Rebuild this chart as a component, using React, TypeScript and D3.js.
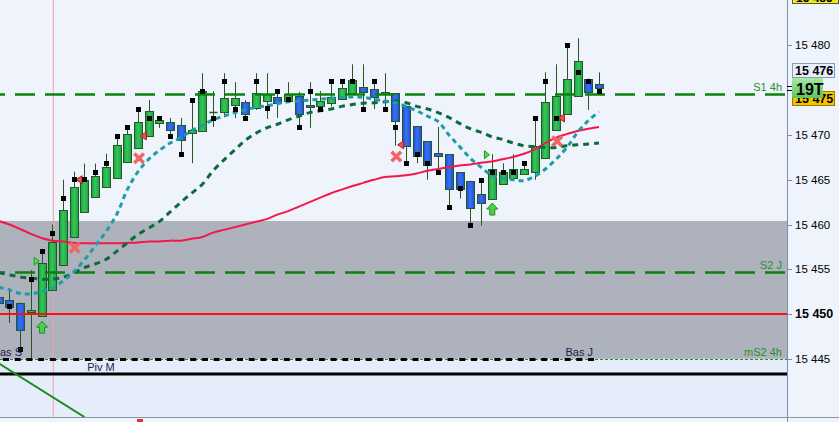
import React from "react";
import * as d3 from "d3";

// ---------- DATA ----------
const firstIndex = -1; // first candle is partially hidden at the left edge

const opens = [15451.9, 15451.6, 15451.2, 15450.2, 15449.8, 15452.7, 15455.5, 15458.6, 15461.4, 15463.1, 15464.2, 15465.2, 15467.0, 15468.6, 15469.9, 15471.3, 15471.4, 15471.1, 15470.2, 15470.4, 15472.6, 15472.6, 15473.4, 15473.7, 15473.05, 15473.8, 15474.2, 15473.8, 15474.4, 15473.35, 15473.2, 15473.55, 15474.0, 15474.7, 15475.4, 15475.1, 15474.55, 15474.7, 15473.25, 15471.0, 15469.3, 15468.0, 15467.85, 15465.85, 15464.9, 15463.4, 15462.9, 15464.5, 15465.2, 15465.6, 15465.9, 15467.4, 15470.6, 15472.4, 15474.4, 15476.3, 15475.7];
const highs = [15452.3, 15452.9, 15451.3, 15454.9, 15457.3, 15460.0, 15465.0, 15465.9, 15466.8, 15466.8, 15467.9, 15470.1, 15471.1, 15473.0, 15473.9, 15472.1, 15471.9, 15471.9, 15474.1, 15476.9, 15474.9, 15476.9, 15475.9, 15473.9, 15476.9, 15476.9, 15474.9, 15475.9, 15474.8, 15475.9, 15474.9, 15475.9, 15475.9, 15477.9, 15477.9, 15475.9, 15476.9, 15474.7, 15473.25, 15471.0, 15469.3, 15470.9, 15467.85, 15465.85, 15464.9, 15465.0, 15467.85, 15466.85, 15467.85, 15467.1, 15471.9, 15477.0, 15477.9, 15480.0, 15480.8, 15476.3, 15477.0];
const lows = [15450.8, 15449.0, 15446.0, 15445.1, 15449.8, 15452.7, 15455.5, 15458.6, 15461.4, 15463.1, 15464.2, 15465.2, 15467.0, 15468.6, 15469.9, 15470.8, 15469.9, 15467.9, 15466.85, 15470.4, 15470.9, 15472.0, 15471.9, 15471.9, 15472.8, 15471.8, 15471.9, 15473.8, 15470.9, 15470.8, 15472.9, 15473.2, 15474.0, 15474.7, 15472.9, 15472.9, 15472.9, 15468.8, 15466.85, 15466.85, 15465.0, 15465.9, 15462.0, 15462.9, 15460.0, 15459.9, 15462.9, 15464.5, 15465.2, 15465.6, 15465.0, 15467.4, 15470.6, 15472.4, 15474.4, 15472.8, 15474.85];
const closes = [15451.2, 15450.8, 15448.2, 15450.4, 15455.7, 15458.1, 15461.6, 15464.2, 15465.0, 15465.4, 15466.4, 15468.9, 15470.1, 15471.4, 15472.65, 15471.7, 15470.6, 15469.4, 15470.6, 15474.9, 15472.6, 15474.1, 15474.1, 15472.35, 15474.7, 15474.55, 15473.6, 15474.6, 15472.4, 15473.1, 15473.8, 15474.3, 15475.3, 15476.1, 15474.85, 15474.3, 15474.8, 15471.6, 15468.8, 15467.6, 15466.6, 15467.6, 15463.95, 15463.95, 15461.9, 15462.4, 15466.2, 15465.85, 15466.2, 15466.2, 15468.8, 15473.65, 15474.4, 15476.3, 15478.3, 15474.85, 15475.3];
const squareMarks: (number | null)[] = [null, 15450.95, 15446.1, 15453.9, 15457.0, 15459.0, 15463.0, 15465.1, 15465.1, 15465.9, 15466.9, 15469.9, 15470.9, 15472.9, 15471.9, 15471.9, 15469.9, 15467.9, 15473.9, 15474.9, 15471.9, 15476.0, 15472.9, 15471.9, 15476.0, 15473.0, 15474.9, 15474.0, 15470.9, 15474.9, 15472.9, 15476.0, 15476.0, 15476.0, 15472.9, 15476.0, 15472.9, 15470.9, 15466.9, 15467.9, 15466.9, 15465.9, 15462.0, 15464.1, 15460.0, 15465.0, 15465.9, 15465.9, 15465.9, 15466.9, 15471.9, 15476.0, 15471.9, 15480.0, 15477.0, 15476.0, 15474.9];

const maRed = [15460.4, 15460.0, 15459.5, 15458.95, 15458.5, 15458.2, 15458.1, 15457.95, 15457.9, 15457.9, 15457.9, 15457.9, 15457.95, 15458.0, 15458.1, 15458.1, 15458.2, 15458.2, 15458.4, 15458.6, 15459.1, 15459.4, 15459.7, 15460.0, 15460.3, 15460.6, 15461.1, 15461.5, 15462.0, 15462.5, 15463.0, 15463.5, 15463.9, 15464.3, 15464.65, 15465.0, 15465.3, 15465.4, 15465.5, 15465.7, 15466.0, 15466.2, 15466.4, 15466.6, 15466.7, 15466.9, 15467.05, 15467.3, 15467.55, 15467.9, 15468.4, 15469.1, 15469.7, 15470.1, 15470.45, 15470.7, 15470.9];
const maTeal = [15453.0, 15452.7, 15452.3, 15452.25, 15452.5, 15452.9, 15453.7, 15454.7, 15456.05, 15457.6, 15459.2, 15461.1, 15463.9, 15465.9, 15467.3, 15468.3, 15469.1, 15469.7, 15470.5, 15471.1, 15471.7, 15472.1, 15472.5, 15472.8, 15473.1, 15473.25, 15473.5, 15473.7, 15473.8, 15473.9, 15474.0, 15474.1, 15474.2, 15474.25, 15474.2, 15474.0, 15473.8, 15473.6, 15473.2, 15472.7, 15472.1, 15471.5, 15470.0, 15468.7, 15467.4, 15466.4, 15465.5, 15465.2, 15465.0, 15464.9, 15465.4, 15466.2, 15467.3, 15468.6, 15470.3, 15471.6, 15472.6];
const maDark = [15454.6, 15454.4, 15454.15, 15454.0, 15453.9, 15453.9, 15454.1, 15454.6, 15455.2, 15455.6, 15456.1, 15457.0, 15457.95, 15458.9, 15459.6, 15460.35, 15461.4, 15462.5, 15463.5, 15464.5, 15466.0, 15467.2, 15468.3, 15469.4, 15470.2, 15470.8, 15471.2, 15471.7, 15472.1, 15472.5, 15472.7, 15472.9, 15473.2, 15473.4, 15473.55, 15473.6, 15473.7, 15473.8, 15473.6, 15473.2, 15472.9, 15472.5, 15471.96, 15471.3, 15470.7, 15470.3, 15469.8, 15469.5, 15469.1, 15468.8, 15468.7, 15468.6, 15468.6, 15468.8, 15468.9, 15469.0, 15469.1];

const crossIdx = [6, 12, 36, 51];
const crossPrice = [15457.4, 15467.4, 15467.6, 15469.3];
const sellTriIdx = [6.5, 12.5, 36.5, 51.5];
const sellTriPrice = [15465.0, 15469.9, 15468.9, 15471.9];
const buyTriIdx = [2.5, 44.5];
const buyTriPrice = [15455.9, 15467.8];
const upArrowIdx = [3, 45];
const upArrowPrice = [15449.2, 15462.4];

const levelS1 = 15474.6;
const levelS2 = 15454.65;
const levelRed = 15450;
const levelBas = 15445;
const levelBasEndIdx = 55;
const levelPivM = 15443.3;
const zoneTop = 15460.4;
const zoneBottom = 15445;
const trendIdx = [-1, 7];
const trendPrice = [15444.5, 15438.5];
const sessionIdx = 4;

const yTicks = [15445, 15450, 15455, 15460, 15465, 15470, 15480];
const boldTick = 15450;
const lastPrice = 15475.3;
const priceBoxes = { top: "15 485", high: "15 476", count: "19T", last: "15 475" };

// ---------- CHART ----------
const W = 839;
const H = 422;
const plotR = 787;
const plotB = 417;
const FONT = "'Liberation Sans', Arial, sans-serif";

const fmt = d3.formatLocale({ decimal: ".", thousands: " ", grouping: [3], currency: ["", ""] }).format(",");

export default function App() {
  const x = d3.scaleLinear().domain([0, 55]).range([9.4, 599]);
  const y = d3.scaleLinear().domain([15438.5, 15485.08]).range([plotB, 0]);
  const ix = (i: number) => i + firstIndex;

  const line = d3
    .line<number>()
    .x((_, i) => x(ix(i)))
    .y((d) => y(d))
    .curve(d3.curveCatmullRom);

  const sy = (p: number) => Math.round(y(p)) + 0.5;

  return (
    <svg width={W} height={H} style={{ position: "absolute", left: 0, top: 0, fontFamily: FONT }}>
      <defs>
        <clipPath id="plot">
          <rect x={0} y={0} width={plotR} height={plotB} />
        </clipPath>
        <linearGradient id="gUp" x1="0" x2="1" y1="0" y2="0">
          <stop offset="0" stopColor="#1d9a3d" />
          <stop offset="0.45" stopColor="#35c85a" />
          <stop offset="1" stopColor="#1f9f40" />
        </linearGradient>
        <linearGradient id="gDn" x1="0" x2="1" y1="0" y2="0">
          <stop offset="0" stopColor="#1c4fd6" />
          <stop offset="0.45" stopColor="#3a6ff5" />
          <stop offset="1" stopColor="#1d50d8" />
        </linearGradient>
        <linearGradient id="gCnt" x1="0" x2="0" y1="0" y2="1">
          <stop offset="0" stopColor="#a6eaa6" />
          <stop offset="1" stopColor="#5cc45c" />
        </linearGradient>
      </defs>

      {/* backgrounds */}
      <rect x={0} y={0} width={W} height={H} fill="#eef3fc" />
      <rect x={0} y={y(zoneBottom)} width={plotR} height={plotB - y(zoneBottom)} fill="#e5edfb" />
      <rect x={0} y={y(zoneTop)} width={plotR} height={y(zoneBottom) - y(zoneTop)} fill="#aeb2bd" />

      <g clipPath="url(#plot)">
        {/* session line */}
        <line x1={x(sessionIdx) + 1} x2={x(sessionIdx) + 1} y1={0} y2={H} stroke="#f0a2a8" strokeWidth={1} />

        {/* candles */}
        {opens.map((o, i) => {
          const c = closes[i];
          const cx = Math.round(x(ix(i))) + 0.5;
          const up = c >= o;
          const top = Math.round(y(Math.max(o, c)));
          const bot = Math.round(y(Math.min(o, c)));
          return (
            <g key={i}>
              <line x1={cx} x2={cx} y1={y(highs[i])} y2={y(lows[i])} stroke="#2b5520" strokeWidth={1} />
              {bot - top < 2 ? (
                <line x1={cx - 4} x2={cx + 4} y1={top + 0.5} y2={top + 0.5} stroke="#2b5520" strokeWidth={1.5} />
              ) : (
                <rect
                  x={cx - 4}
                  y={top + 0.5}
                  width={8}
                  height={bot - top}
                  fill={up ? "url(#gUp)" : "url(#gDn)"}
                  stroke="#205a26"
                  strokeWidth={1}
                />
              )}
            </g>
          );
        })}

        {/* horizontal levels */}
        <line x1={0} x2={plotR} y1={sy(levelS1)} y2={sy(levelS1)} stroke="#0a830a" strokeWidth={2.5} strokeDasharray="20 10" strokeDashoffset={15} />
        <line x1={0} x2={plotR} y1={sy(levelS2)} y2={sy(levelS2)} stroke="#0a830a" strokeWidth={2.5} strokeDasharray="20 10" strokeDashoffset={15} />
        <line x1={0} x2={plotR} y1={y(levelRed)} y2={y(levelRed)} stroke="#ff1010" strokeWidth={2} />
        <line x1={0} x2={plotR} y1={sy(levelBas)} y2={sy(levelBas)} stroke="#2a8a2a" strokeWidth={1} strokeDasharray="3 2" />
        <line x1={0} x2={x(levelBasEndIdx) - 2} y1={sy(levelBas)} y2={sy(levelBas)} stroke="#000" strokeWidth={3} strokeDasharray="6 5.7" strokeDashoffset={-3} />
        <line x1={0} x2={plotR} y1={y(levelPivM)} y2={y(levelPivM)} stroke="#000" strokeWidth={3} />
        <line
          x1={x(trendIdx[0])}
          y1={y(trendPrice[0])}
          x2={x(trendIdx[1])}
          y2={y(trendPrice[1])}
          stroke="#1b8a1b"
          strokeWidth={2}
        />

        {/* moving averages */}
        <path d={line(maRed) || ""} fill="none" stroke="#f5174a" strokeWidth={2} />
        <path d={line(maDark) || ""} fill="none" stroke="#0c6b3c" strokeWidth={3} strokeDasharray="6 5" />
        <path d={line(maTeal) || ""} fill="none" stroke="#1c9ea6" strokeWidth={3} strokeDasharray="5 4" />

        {/* signal markers */}
        {crossIdx.map((ci, k) => {
          const cx = x(ci) + 1;
          const cy = y(crossPrice[k]);
          return (
            <g key={"x" + k} stroke="#f06464" strokeWidth={3.5} strokeLinecap="square">
              <line x1={cx - 3.5} y1={cy - 3.5} x2={cx + 3.5} y2={cy + 3.5} />
              <line x1={cx - 3.5} y1={cy + 3.5} x2={cx + 3.5} y2={cy - 3.5} />
            </g>
          );
        })}
        {sellTriIdx.map((ti, k) => {
          const tx = x(ti);
          const ty = y(sellTriPrice[k]);
          return (
            <path
              key={"s" + k}
              d={`M${tx - 3},${ty} L${tx + 3},${ty - 4} L${tx + 3},${ty + 4} Z`}
              fill="#f05050"
              stroke="#b01818"
              strokeWidth={1}
            />
          );
        })}
        {buyTriIdx.map((ti, k) => {
          const tx = x(ti);
          const ty = y(buyTriPrice[k]);
          return (
            <path
              key={"b" + k}
              d={`M${tx + 3},${ty} L${tx - 2},${ty - 4} L${tx - 2},${ty + 4} Z`}
              fill="#4ee04e"
              stroke="#1a9a1a"
              strokeWidth={1}
            />
          );
        })}
        {upArrowIdx.map((ai, k) => {
          const cx = x(ai) + 0.5;
          const ty = y(upArrowPrice[k]);
          return (
            <path
              key={"a" + k}
              d={`M${cx},${ty} L${cx + 5.5},${ty + 6} L${cx + 2.5},${ty + 6} L${cx + 2.5},${ty + 12} L${cx - 2.5},${ty + 12} L${cx - 2.5},${ty + 6} L${cx - 5.5},${ty + 6} Z`}
              fill="#48d048"
              stroke="#1e901e"
              strokeWidth={1}
            />
          );
        })}

        {/* black squares */}
        {squareMarks.map((p, i) =>
          p == null ? null : (
            <rect key={"q" + i} x={Math.round(x(ix(i))) - 2} y={Math.round(y(p)) - 2} width={5} height={5} fill="#000" />
          )
        )}

        {/* level labels */}
        <text x={782} y={y(levelS1) - 2.5} textAnchor="end" fontSize={11} fill="#2a8f2a">S1 4h</text>
        <text x={782} y={y(levelS2) - 3} textAnchor="end" fontSize={11} fill="#2a8f2a">S2 J</text>
        <text x={782} y={y(levelBas) - 3} textAnchor="end" fontSize={11} fill="#2a8f2a">mS2 4h</text>
        <text x={x(levelBasEndIdx) - 6} y={y(levelBas) - 3} textAnchor="end" fontSize={11} fill="#1c1c50">Bas J</text>
        <text x={22} y={y(levelBas) - 3} textAnchor="end" fontSize={11} fill="#1c1c50">Bas S</text>
        <text x={101} y={y(levelPivM) - 3} textAnchor="middle" fontSize={11} fill="#1c1c50">Piv M</text>
      </g>

      {/* bottom panel separator */}
      <line x1={0} x2={W} y1={plotB + 0.5} y2={plotB + 0.5} stroke="#8a96a8" strokeWidth={1} />
      <rect x={137} y={419} width={6} height={3} fill="#e03030" />

      {/* right axis */}
      <line x1={plotR + 0.5} x2={plotR + 0.5} y1={0} y2={H} stroke="#7f8ea6" strokeWidth={1} />
      {[...yTicks, 15475].map((t) => (
        <line key={"t" + t} x1={plotR} x2={plotR + 5} y1={sy(t)} y2={sy(t)} stroke={t === 15475 ? "#000" : "#7f8ea6"} strokeWidth={1} />
      ))}
      <line x1={plotR} x2={plotR + 7} y1={sy(lastPrice) - 2} y2={sy(lastPrice) - 2} stroke="#000" strokeWidth={1} />
      {yTicks.map((t) => (
        <text
          key={"l" + t}
          x={795}
          y={y(t) + 4}
          fontSize={t === boldTick ? 12.5 : 11.5}
          fontWeight={t === boldTick ? "bold" : "normal"}
          fill="#000"
        >
          {fmt(t)}
        </text>
      ))}

      {/* price boxes */}
      <rect x={792.5} y={-10.5} width={46} height={14} fill="#f0ec10" stroke="#555" strokeWidth={1} />
      <text x={796} y={2} fontSize={12} fontWeight="bold" fill="#000">{priceBoxes.top}</text>

      <rect x={792.5} y={63.5} width={42} height={14} fill="#e6eefa" stroke="#8c9bb4" strokeWidth={1} />
      <text x={795} y={75} fontSize={12.5} fontWeight="bold" fill="#000">{priceBoxes.high}</text>

      <rect x={792.5} y={91.5} width={42} height={14} fill="#f5c400" stroke="#9a7a00" strokeWidth={1} />
      <text x={795} y={103} fontSize={12.5} fontWeight="bold" fill="#000">{priceBoxes.last}</text>

      <rect x={792} y={78} width={31} height={20} fill="url(#gCnt)" />
      <text x={796} y={95} fontSize={16} fontWeight="bold" fill="#000">{priceBoxes.count}</text>
    </svg>
  );
}
